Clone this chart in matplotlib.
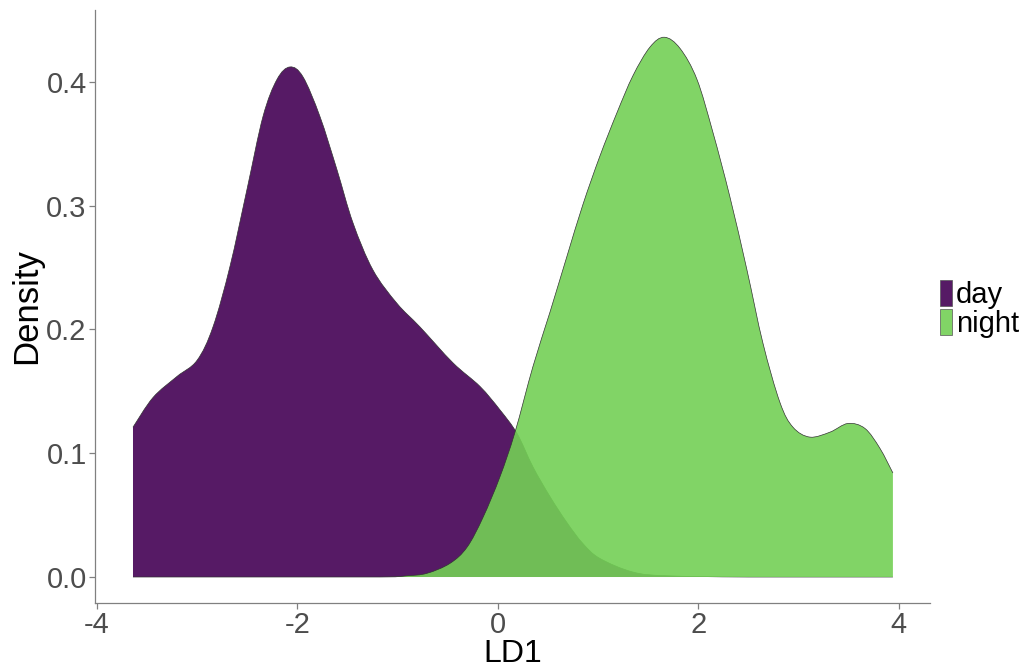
import matplotlib
matplotlib.use('Agg')
import matplotlib.pyplot as plt
import numpy as np
from matplotlib.patches import Patch, PathPatch
from matplotlib.path import Path
from matplotlib.colors import to_rgba

# density estimates (LD1 value, density)
day_x = [-3.641, -3.441, -3.202, -3.002, -2.843, -2.673, -2.504, -2.344, -2.204,
         -2.075, -1.945, -1.776, -1.606, -1.446, -1.247, -1.007, -0.778, -0.449,
         -0.180, 0.020, 0.190, 0.349, 0.519, 0.688, 0.848, 1.017, 1.347, 1.69,
         2.5, 3.94]
day_y = [0.121, 0.145, 0.162, 0.175, 0.202, 0.251, 0.313, 0.372, 0.402,
         0.412, 0.404, 0.372, 0.329, 0.286, 0.248, 0.221, 0.202, 0.173,
         0.154, 0.135, 0.116, 0.089, 0.065, 0.044, 0.027, 0.015, 0.004, 0.001,
         0.0, 0.0]

night_x = [-3.641, -2.5, -1.18, -0.908, -0.708, -0.479, -0.309, -0.150, 0.020,
           0.170, 0.349, 0.519, 0.688, 0.848, 1.017, 1.187, 1.347, 1.516, 1.66,
           1.816, 1.985, 2.145, 2.314, 2.484, 2.643, 2.813, 2.943, 3.112, 3.312,
           3.491, 3.661, 3.810, 3.940]
night_y = [0.0, 0.0, 0.0, 0.001, 0.003, 0.011, 0.024, 0.048, 0.081,
           0.117, 0.170, 0.214, 0.259, 0.301, 0.340, 0.375, 0.405, 0.428, 0.436,
           0.427, 0.402, 0.359, 0.307, 0.248, 0.189, 0.141, 0.121, 0.113, 0.117,
           0.124, 0.120, 0.104, 0.084]

groups = ['day', 'night']
colors = ['#440154', '#73D055']
ALPHA = 0.9

x_ticks = [-4, -2, 0, 2, 4]
y_ticks = [0.0, 0.1, 0.2, 0.3, 0.4]


def smooth_curve(xs, ys):
    """Bezier path through the read points (Catmull-Rom style handles)."""
    pts = np.column_stack([xs, ys])
    verts = [pts[0]]
    codes = [Path.MOVETO]
    n = len(pts)
    for i in range(n - 1):
        p0 = pts[max(i - 1, 0)]
        p1 = pts[i]
        p2 = pts[i + 1]
        p3 = pts[min(i + 2, n - 1)]
        c1 = p1 + (p2 - p0) / 6
        c2 = p2 - (p3 - p1) / 6
        c1[1] = max(c1[1], 0)
        c2[1] = max(c2[1], 0)
        verts += [c1, c2, p2]
        codes += [Path.CURVE4] * 3
    return verts, codes


plt.rcParams['font.family'] = ['Liberation Sans', 'DejaVu Sans']

fig = plt.figure(figsize=(10.31, 6.70), dpi=100)
ax = fig.add_axes([95 / 1031, 1 - 603 / 670, (930 - 95) / 1031, (603 - 10) / 670])

for (xs, ys), col in zip([(day_x, day_y), (night_x, night_y)], colors):
    verts, codes = smooth_curve(xs, ys)
    fill_verts = verts + [(xs[-1], 0), (xs[0], 0), (xs[0], 0)]
    fill_codes = codes + [Path.LINETO, Path.LINETO, Path.CLOSEPOLY]
    ax.add_patch(PathPatch(Path(fill_verts, fill_codes), facecolor=to_rgba(col, ALPHA),
                           edgecolor='none', lw=0))
    ax.add_patch(PathPatch(Path(verts, codes), facecolor='none',
                           edgecolor='#333333', lw=0.5))

ax.set_xlim(-4.02, 4.31)
ax.set_ylim(-0.021, 0.458)
ax.set_xticks(x_ticks)
ax.set_xticklabels([str(t) if t >= 0 else '-' + str(-t) for t in x_ticks])
ax.set_yticks(y_ticks)
ax.set_yticklabels([f'{t:.1f}' for t in y_ticks])

for side in ['top', 'right']:
    ax.spines[side].set_visible(False)
for side in ['left', 'bottom']:
    ax.spines[side].set_color('#808080')
    ax.spines[side].set_linewidth(0.9)
ax.tick_params(colors='#808080', labelcolor='#4D4D4D', labelsize=21, length=4,
               width=0.9, pad=2)

ax.set_xlabel('LD1', fontsize=23, labelpad=0)
ax.set_ylabel('Density', fontsize=25, labelpad=2)

handles = [Patch(facecolor=to_rgba(c, ALPHA), edgecolor='#555555', lw=0.5) for c in colors]
fig.legend(handles, groups, loc='center left', bbox_to_anchor=(940 / 1031, 1 - 309 / 670),
           frameon=False, fontsize=21, handlelength=0.4, handleheight=0.98,
           labelspacing=0.0, handletextpad=0.15, borderpad=0, borderaxespad=0)

fig.savefig('out.png', dpi=100)
